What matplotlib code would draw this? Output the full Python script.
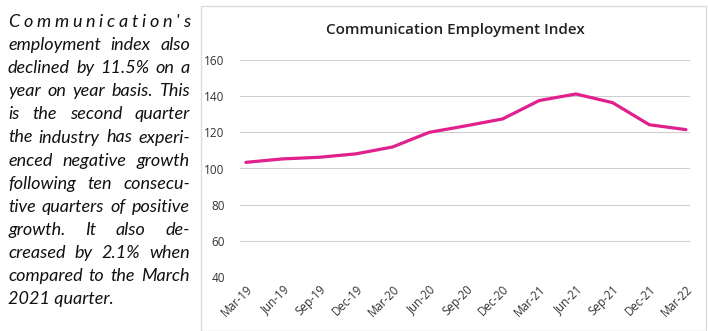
import matplotlib
matplotlib.use('Agg')
import matplotlib.pyplot as plt
from matplotlib.patches import Rectangle

# 数据
quarters = ['Mar-19', 'Jun-19', 'Sep-19', 'Dec-19', 'Mar-20', 'Jun-20', 'Sep-20',
            'Dec-20', 'Mar-21', 'Jun-21', 'Sep-21', 'Dec-21', 'Mar-22']
index_values = [103.4, 105.3, 106.2, 108.1, 111.9, 120.0, 123.6,
                127.4, 137.6, 141.2, 136.4, 124.2, 121.5]
y_ticks = [40, 60, 80, 100, 120, 140, 160]

text_lines = [
    "Communication's",
    "employment index also",
    "declined by 11.5% on a",
    "year on year basis. This",
    "is the second quarter",
    "the industry has experi-",
    "enced negative growth",
    "following ten consecu-",
    "tive quarters of positive",
    "growth. It also de-",
    "creased by 2.1% when",
    "compared to the March",
    "2021 quarter.",
]

W, H = 708, 331
fig = plt.figure(figsize=(W / 100, H / 100), dpi=100)
fig.patch.set_facecolor('white')

# 图表外框
fig.add_artist(Rectangle((201 / W, 0), (706 - 201) / W, (H - 6) / H, transform=fig.transFigure,
                         fill=False, edgecolor='#dddddd', linewidth=1))

ax = fig.add_axes([240 / W, (H - 277) / H, 450 / W, (277 - 60) / H])
x = list(range(len(quarters)))
ax.plot(x, index_values, color='#e0208c', linewidth=2.3, solid_capstyle='round')
ax.set_xlim(-0.16, 12.11)
ax.set_ylim(40, 160)
ax.set_yticks(y_ticks)
ax.set_xticks(x)
ax.set_xticklabels(quarters, rotation=45, ha='right', rotation_mode='anchor',
                   fontsize=8.3, color='#333333', family='Open Sans')
ax.tick_params(axis='y', labelsize=8.5, labelcolor='#333333', length=0, pad=11)
ax.tick_params(axis='x', length=0, pad=4)
for lab in ax.get_yticklabels():
    lab.set_family('Open Sans')
ax.grid(axis='y', color='#cfcfcf', linewidth=0.8)
ax.set_axisbelow(True)
for s in ax.spines.values():
    s.set_visible(False)

fig.text(455 / W, 1 - 30 / H, 'Communication Employment Index', ha='center', va='center',
         fontsize=11, color='#222222', family='Open Sans', fontweight='semibold')

# 左侧两端对齐的斜体文字
fig.canvas.draw()
renderer = fig.canvas.get_renderer()
left_px, right_px = 8, 190
top_px, step_px = 22, 23.1
font = dict(family='Lato', style='italic', fontsize=13, color='#111111')

for i, line in enumerate(text_lines):
    y = 1 - (top_px + i * step_px) / H
    if i == len(text_lines) - 1:
        fig.text(left_px / W, y, line, va='center', ha='left', **font)
        continue
    parts = list(line) if i == 0 else line.split(' ')
    widths = []
    for p in parts:
        t = fig.text(0, 0, p, **font)
        widths.append(t.get_window_extent(renderer).width)
        t.remove()
    gap = (right_px - left_px - sum(widths)) / (len(parts) - 1)
    xp = left_px
    for p, w in zip(parts, widths):
        fig.text(xp / W, y, p, va='center', ha='left', **font)
        xp += w + gap

fig.savefig('out.png', dpi=100)
